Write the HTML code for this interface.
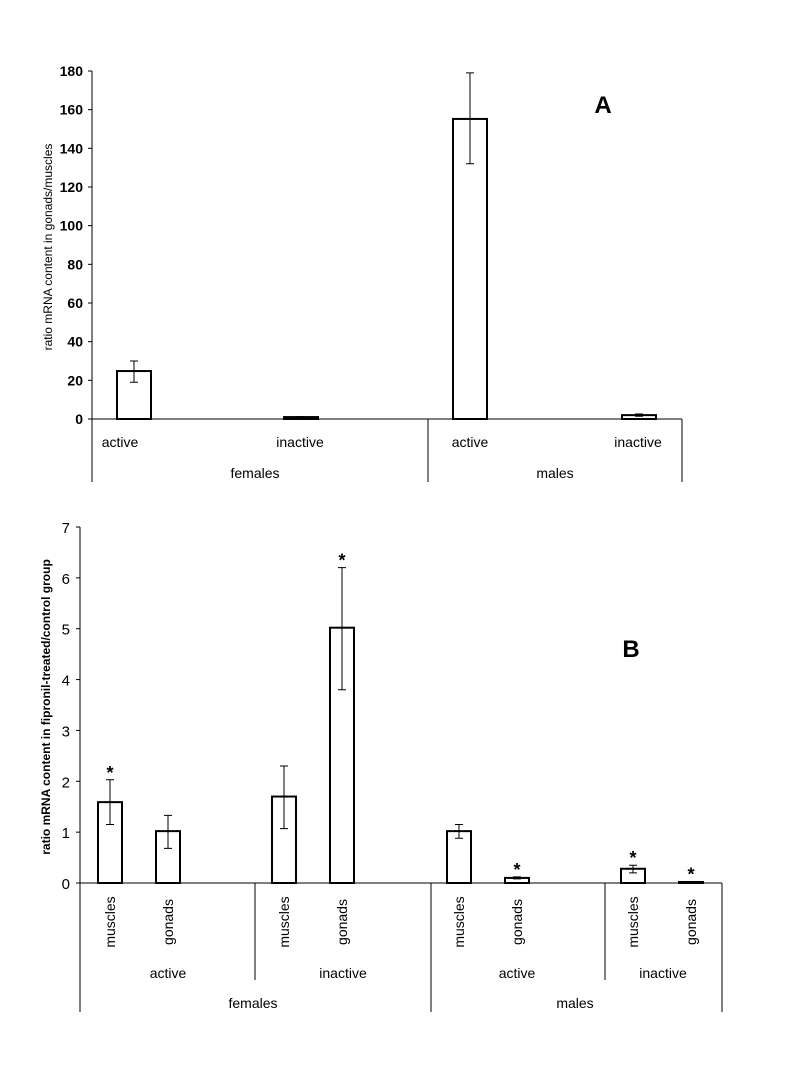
<!DOCTYPE html>
<html><head><meta charset="utf-8"><style>
html,body{margin:0;padding:0;background:#fff;}
svg{display:block;font-family:"Liberation Sans",Arial,sans-serif;}
</style></head><body>
<svg id="chart" width="800" height="1067" viewBox="0 0 800 1067"></svg>
<script>
// ---- Chart A data ----
const aCategories = ["females active","females inactive","males active","males inactive"];
const aValues = [24.8, 1, 155.2, 2];
const aErrHigh = [30, 1.3, 179, 2.6];
const aErrLow = [19, 0.7, 132, 1.4];
const aTicks = [0,20,40,60,80,100,120,140,160,180];
// ---- Chart B data ----
const bCategories = ["f-act-muscles","f-act-gonads","f-inact-muscles","f-inact-gonads","m-act-muscles","m-act-gonads","m-inact-muscles","m-inact-gonads"];
const bValues = [1.59, 1.02, 1.7, 5.02, 1.02, 0.1, 0.28, 0.02];
const bErrHigh = [2.03, 1.33, 2.3, 6.2, 1.15, 0.12, 0.35, 0.03];
const bErrLow = [1.15, 0.68, 1.07, 3.8, 0.88, 0.08, 0.2, 0.01];
const bStars = [true, false, false, true, false, true, true, true];
const bTicks = [0,1,2,3,4,5,6,7];

const NS = "http://www.w3.org/2000/svg";
const svg = document.getElementById('chart');
function el(tag, attrs, parent){const e=document.createElementNS(NS,tag);for(const k in attrs)e.setAttribute(k,attrs[k]);(parent||svg).appendChild(e);return e;}
function txt(s, attrs, name){const t=el('text',attrs);t.textContent=s;


return t;}

// ---------- Chart A ----------
const aX0=92, aY0=419, aYTop=71, aMax=180, aRight=682;
const ay = v => aY0 - v/aMax*(aY0-aYTop);
const aBarX = [117, 284, 453, 622];
const aBarW = 34;
let g = el('g',{});


el('line',{x1:aX0,y1:aYTop,x2:aX0,y2:482,stroke:'#000','stroke-width':1},g);
el('line',{x1:aX0,y1:aY0,x2:aRight,y2:aY0,stroke:'#000','stroke-width':1},g);
el('line',{x1:428,y1:aY0,x2:428,y2:482,stroke:'#000','stroke-width':1},g);
el('line',{x1:aRight,y1:aY0,x2:aRight,y2:482,stroke:'#000','stroke-width':1},g);
aTicks.forEach(t=>{
  el('line',{x1:aX0-4,y1:ay(t),x2:aX0,y2:ay(t),stroke:'#000'},g);
  txt(String(t),{x:aX0-9,y:ay(t)+5,'text-anchor':'end','font-size':14,'font-weight':'bold'},'a-y-tick');
});
aValues.forEach((v,i)=>{
  const r=el('rect',{x:aBarX[i],y:ay(v),width:aBarW,height:aY0-ay(v),fill:'#fff',stroke:'#000','stroke-width':2});
  
  
  const cx=aBarX[i]+aBarW/2;
  const e=el('path',{d:`M${cx},${ay(aErrHigh[i])}V${ay(aErrLow[i])}M${cx-4},${ay(aErrHigh[i])}H${cx+4}M${cx-4},${ay(aErrLow[i])}H${cx+4}`,stroke:'#000','stroke-width':1,fill:'none'});
  
  
});
txt('active',{x:120,y:447,'text-anchor':'middle','font-size':14},'a-label-active-f');
txt('inactive',{x:300,y:447,'text-anchor':'middle','font-size':14},'a-label-inactive-f');
txt('females',{x:255,y:478,'text-anchor':'middle','font-size':14},'a-label-females');
txt('active',{x:470,y:447,'text-anchor':'middle','font-size':14},'a-label-active-m');
txt('inactive',{x:638,y:447,'text-anchor':'middle','font-size':14},'a-label-inactive-m');
txt('males',{x:555,y:478,'text-anchor':'middle','font-size':14},'a-label-males');
txt('A',{x:603,y:113,'text-anchor':'middle','font-size':24,'font-weight':'bold'},'a-panel-label');
txt('ratio  mRNA content in gonads/muscles',{x:0,y:0,'text-anchor':'middle','font-size':12,transform:'translate(52,247) rotate(-90)'},'a-y-axis-title');

// ---------- Chart B ----------
const bX0=80, bY0=883, bYTop=527, bMax=7, bRight=722;
const by = v => bY0 - v/bMax*(bY0-bYTop);
const bBarX = [98,156,272,330,447,505,621,679];
const bBarW = 24;
el('line',{x1:bX0,y1:bYTop,x2:bX0,y2:1012,stroke:'#000'});
el('line',{x1:bX0,y1:bY0,x2:bRight,y2:bY0,stroke:'#000'});
el('line',{x1:255,y1:bY0,x2:255,y2:980,stroke:'#000'});
el('line',{x1:431,y1:bY0,x2:431,y2:1012,stroke:'#000'});
el('line',{x1:605,y1:bY0,x2:605,y2:980,stroke:'#000'});
el('line',{x1:bRight,y1:bY0,x2:bRight,y2:1012,stroke:'#000'});
bTicks.forEach(t=>{
  el('line',{x1:bX0-4,y1:by(t),x2:bX0,y2:by(t),stroke:'#000'});
  txt(String(t),{x:bX0-10,y:by(t)+6,'text-anchor':'end','font-size':15},'b-y-tick');
});
bValues.forEach((v,i)=>{
  const r=el('rect',{x:bBarX[i],y:by(v),width:bBarW,height:bY0-by(v),fill:'#fff',stroke:'#000','stroke-width':2});
  
  
  const cx=bBarX[i]+bBarW/2;
  const e=el('path',{d:`M${cx},${by(bErrHigh[i])}V${by(bErrLow[i])}M${cx-4},${by(bErrHigh[i])}H${cx+4}M${cx-4},${by(bErrLow[i])}H${cx+4}`,stroke:'#000','stroke-width':1,fill:'none'});
  
  
  if(bStars[i]) txt('*',{x:cx,y:by(bErrHigh[i])-1,'text-anchor':'middle','font-size':18,'font-weight':'bold'},'significance-star');
  txt(i%2===0?'muscles':'gonads',{x:0,y:0,'text-anchor':'middle','font-size':14,transform:`translate(${cx+5},922) rotate(-90)`},'b-tissue-label');
});
txt('active',{x:168,y:978,'text-anchor':'middle','font-size':14},'b-label-active-f');
txt('inactive',{x:343,y:978,'text-anchor':'middle','font-size':14},'b-label-inactive-f');
txt('females',{x:253,y:1008,'text-anchor':'middle','font-size':14},'b-label-females');
txt('active',{x:517,y:978,'text-anchor':'middle','font-size':14},'b-label-active-m');
txt('inactive',{x:663,y:978,'text-anchor':'middle','font-size':14},'b-label-inactive-m');
txt('males',{x:575,y:1008,'text-anchor':'middle','font-size':14},'b-label-males');
txt('B',{x:631,y:657,'text-anchor':'middle','font-size':24,'font-weight':'bold'},'b-panel-label');
txt('ratio  mRNA content in fipronil-treated/control group',{x:0,y:0,'text-anchor':'middle','font-size':12,'font-weight':'bold',transform:'translate(50,707) rotate(-90)'},'b-y-axis-title');
</script>
</body></html>
